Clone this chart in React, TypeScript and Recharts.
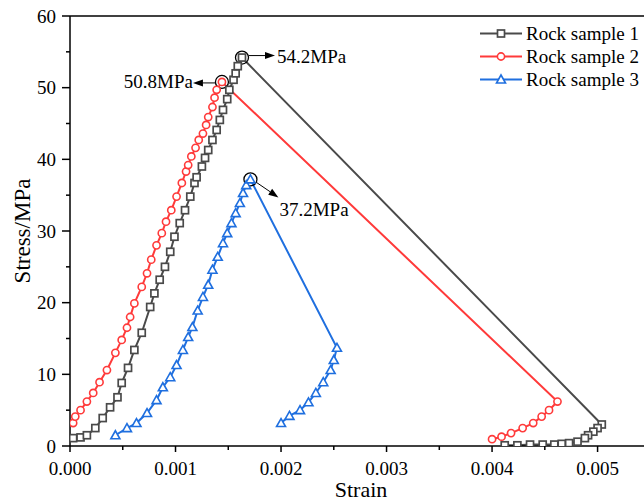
import { Legend, Line, LineChart, ReferenceDot, ReferenceLine, XAxis, YAxis } from 'recharts'

const FONT = '"Liberation Serif", "Times New Roman", serif'

// rock sample 1
const strain1 = [
  0.00003, 0.0001, 0.00016, 0.00024, 0.00031, 0.00038, 0.00045, 0.00049, 0.00055, 0.00061,
  0.00068, 0.00076, 0.0008, 0.00085, 0.0009, 0.00095, 0.00099, 0.00104, 0.00109, 0.00114,
  0.00118, 0.0012, 0.00125, 0.00128, 0.00131, 0.00135, 0.00139, 0.00142, 0.00145, 0.00149,
  0.00151, 0.00155, 0.00157, 0.00159, 0.00163,
  0.00504, 0.005, 0.00496, 0.00491, 0.00488, 0.00481, 0.00473, 0.00466, 0.00459, 0.00448,
  0.00436, 0.00424, 0.00412,
]
const stress1 = [
  1.1, 1.2, 1.5, 2.5, 3.9, 5.4, 6.8, 8.8, 10.9, 13.4,
  15.8, 19.4, 21.3, 23.2, 25.0, 27.1, 29.2, 31.1, 32.9, 34.8,
  36.7, 37.5, 39.0, 40.2, 41.3, 42.7, 44.1, 45.5, 46.9, 48.4,
  49.7, 51.1, 52.0, 53.0, 54.2,
  3.0, 2.5, 2.0, 1.5, 1.1, 0.6, 0.4, 0.3, 0.2, 0.2,
  0.2, 0.1, 0.1,
]

// rock sample 2
const strain2 = [
  0.00003, 0.00005, 0.0001, 0.00016, 0.00022, 0.00028, 0.00035, 0.00043, 0.00049, 0.00054,
  0.00057, 0.00061, 0.00068, 0.00073, 0.00077, 0.00082, 0.00087, 0.00091, 0.00096, 0.00101,
  0.00106, 0.0011, 0.00112, 0.00115, 0.00119, 0.00122, 0.00126, 0.00129, 0.00131, 0.00135,
  0.00137, 0.00139, 0.00144,
  0.00462, 0.00454, 0.00447, 0.00439, 0.00429, 0.00418, 0.00409, 0.004,
]
const stress2 = [
  3.2, 4.1, 5.0, 6.2, 7.4, 8.9, 10.6, 13.0, 14.8, 16.5,
  18.0, 19.9, 22.2, 24.1, 26.0, 28.0, 29.7, 31.3, 32.9, 34.8,
  36.7, 38.3, 39.2, 40.4, 41.6, 42.7, 43.6, 44.8, 45.9, 47.3,
  48.6, 49.7, 50.8,
  6.2, 5.0, 4.1, 3.2, 2.5, 1.8, 1.3, 0.95,
]

// rock sample 3
const strain3 = [
  0.00043, 0.00054, 0.00063, 0.00073, 0.00082, 0.00088, 0.00095, 0.00101, 0.00107, 0.00112,
  0.00116, 0.00121, 0.00126, 0.00131, 0.00135, 0.0014, 0.00145, 0.00149, 0.00153, 0.00157,
  0.00161, 0.00164, 0.00167, 0.00171,
  0.00253, 0.0025, 0.00247, 0.0024, 0.00233, 0.00226, 0.00218, 0.00208, 0.002,
]
const stress3 = [
  1.5, 2.5, 3.2, 4.6, 6.4, 8.2, 9.6, 11.3, 13.4, 15.2,
  16.6, 18.9, 20.8, 22.5, 24.6, 26.4, 28.3, 29.7, 31.1, 32.5,
  33.9, 35.3, 36.4, 37.2,
  13.7, 12.0, 10.6, 8.9, 7.4, 6.1, 5.0, 4.2, 3.2,
]

const seriesNames = ['Rock sample 1', 'Rock sample 2', 'Rock sample 3']
const peakStrain = [0.00163, 0.00144, 0.00171]
const peakStress = [54.2, 50.8, 37.2]
const peakLabels = ['54.2MPa', '50.8MPa', '37.2MPa']

const xTicks = [0, 0.0005, 0.001, 0.0015, 0.002, 0.0025, 0.003, 0.0035, 0.004, 0.0045, 0.005]
const yTicks = [0, 5, 10, 15, 20, 25, 30, 35, 40, 45, 50, 55, 60]

const COLORS = ['#4a4a4a', '#ff3a3a', '#1f6fdf']
const SHAPES = ['square', 'circle', 'triangle']

// arrow / text offsets from the peak circle, in px
const ANNOT = [
  { x1: 7, y1: -2, x2: 33, y2: -2, tx: 35, ty: 5, anchor: 'start' },
  { x1: -6, y1: 1, x2: -29, y2: 1, tx: -29, ty: 6, anchor: 'end' },
  { x1: 6, y1: 3, x2: 28, y2: 18, tx: 29, ty: 37, anchor: 'start' },
]

const toPoints = (xs: number[], ys: number[]) => xs.map((x, i) => ({ x, y: ys[i] }))
const seriesData = [
  toPoints(strain1, stress1),
  toPoints(strain2, stress2),
  toPoints(strain3, stress3),
]

function Marker({ cx, cy, shape, color }: { cx: number; cy: number; shape: string; color: string }) {
  if (cx == null || cy == null) return null
  if (shape === 'square') {
    return <rect x={cx - 3.5} y={cy - 3.5} width={7} height={7} fill="#fff" stroke={color} strokeWidth={1.7} />
  }
  if (shape === 'circle') {
    return <circle cx={cx} cy={cy} r={3.6} fill="#fff" stroke={color} strokeWidth={1.6} />
  }
  return (
    <polygon
      points={`${cx},${cy - 4.5} ${cx - 4.5},${cy + 3.5} ${cx + 4.5},${cy + 3.5}`}
      fill="#fff"
      stroke={color}
      strokeWidth={1.6}
    />
  )
}

function XTick(props: any) {
  const { x, y, payload } = props
  const v = payload.value as number
  const major = Math.round(v * 10000) % 10 === 0
  return (
    <g>
      <line x1={x} x2={x} y1={y} y2={y + (major ? 6 : 4)} stroke="#000" strokeWidth={1.5} />
      {major && (
        <text x={x} y={y + 29} textAnchor="middle" fontSize={19} fontFamily={FONT} fill="#000">
          {v.toFixed(3)}
        </text>
      )}
    </g>
  )
}

function YTick(props: any) {
  const { x, y, payload } = props
  const v = payload.value as number
  const major = v % 10 === 0
  return (
    <g>
      <line x1={x - (major ? 8 : 4)} x2={x} y1={y} y2={y} stroke="#000" strokeWidth={1.5} />
      {major && (
        <text x={x - 14} y={y} dy="0.35em" textAnchor="end" fontSize={19} fontFamily={FONT} fill="#000">
          {v}
        </text>
      )}
    </g>
  )
}

function PeakMark({ cx, cy, index }: { cx: number; cy: number; index: number }) {
  const a = ANNOT[index]
  const x1 = cx + a.x1
  const y1 = cy + a.y1
  const x2 = cx + a.x2
  const y2 = cy + a.y2
  const ang = Math.atan2(y2 - y1, x2 - x1)
  const len = 10
  const hw = 3.5
  const bx = x2 - len * Math.cos(ang)
  const by = y2 - len * Math.sin(ang)
  const px = -Math.sin(ang) * hw
  const py = Math.cos(ang) * hw
  return (
    <g>
      <circle cx={cx} cy={cy} r={6.5} fill="none" stroke="#000" strokeWidth={1.3} />
      <line x1={x1} y1={y1} x2={bx} y2={by} stroke="#000" strokeWidth={1} />
      <polygon points={`${x2},${y2} ${bx + px},${by + py} ${bx - px},${by - py}`} fill="#000" />
      <text
        x={cx + a.tx}
        y={cy + a.ty}
        textAnchor={a.anchor as any}
        fontSize={19}
        fontFamily={FONT}
        fill="#000"
      >
        {peakLabels[index]}
      </text>
    </g>
  )
}

function LegendBox() {
  return (
    <div style={{ fontFamily: FONT, fontSize: 19, color: '#000' }}>
      {seriesNames.map((name, i) => (
        <div key={name} style={{ display: 'flex', alignItems: 'center', height: 23, whiteSpace: 'nowrap' }}>
          <svg width={46} height={23} style={{ display: 'block' }}>
            <line x1={0} x2={42} y1={11.5} y2={11.5} stroke={COLORS[i]} strokeWidth={2} />
            <Marker cx={21} cy={11.5} shape={SHAPES[i]} color={COLORS[i]} />
          </svg>
          <span>{name}</span>
        </div>
      ))}
    </div>
  )
}

export default function App() {
  return (
    <div style={{ position: 'absolute', left: 0, top: 0, background: '#fff' }}>
      <LineChart width={644} height={502} margin={{ top: 16, right: 0, bottom: 0, left: 0 }}>
        <XAxis
          type="number"
          dataKey="x"
          domain={[0, 0.00544]}
          allowDataOverflow
          ticks={xTicks}
          interval={0}
          tick={<XTick />}
          tickLine={false}
          tickSize={0}
          tickMargin={0}
          height={56}
          axisLine={{ stroke: '#000', strokeWidth: 1.5 }}
          label={{
            content: (p: any) => (
              <text
                x={p.viewBox.x + p.viewBox.width / 2 + 4}
                y={p.viewBox.y + 51}
                textAnchor="middle"
                fontSize={22}
                fontFamily={FONT}
                fill="#000"
              >
                Strain
              </text>
            ),
          }}
        />
        <YAxis
          type="number"
          dataKey="y"
          domain={[0, 60]}
          allowDataOverflow
          ticks={yTicks}
          interval={0}
          tick={<YTick />}
          tickLine={false}
          tickSize={0}
          tickMargin={0}
          width={70}
          axisLine={{ stroke: '#000', strokeWidth: 1.5 }}
          label={{
            content: (p: any) => {
              const cx = p.viewBox.x + 22
              const cy = p.viewBox.y + p.viewBox.height / 2
              return (
                <text
                  x={cx}
                  y={cy}
                  dy="0.35em"
                  textAnchor="middle"
                  transform={`rotate(-90 ${cx} ${cy})`}
                  fontSize={23}
                  fontFamily={FONT}
                  fill="#000"
                >
                  Stress/MPa
                </text>
              )
            },
          }}
        />
        <ReferenceLine y={60} stroke="#000" strokeWidth={1.5} />
        {seriesData.map((data, i) => (
          <Line
            key={seriesNames[i]}
            data={data}
            dataKey="y"
            name={seriesNames[i]}
            type="linear"
            stroke={COLORS[i]}
            strokeWidth={2}
            isAnimationActive={false}
            dot={(p: any) => (
              <Marker key={`d-${i}-${p.index}`} cx={p.cx} cy={p.cy} shape={SHAPES[i]} color={COLORS[i]} />
            )}
            activeDot={false}
          />
        ))}
        {peakStrain.map((px, i) => (
          <ReferenceDot
            key={peakLabels[i]}
            x={px}
            y={peakStress[i]}
            r={6.5}
            shape={(p: any) => <PeakMark cx={p.cx} cy={p.cy} index={i} />}
          />
        ))}
        <Legend
          layout="vertical"
          align="center"
          verticalAlign="middle"
          content={() => <LegendBox />}
          wrapperStyle={{ left: 480, top: 22, width: 'auto' }}
        />
      </LineChart>
    </div>
  )
}
